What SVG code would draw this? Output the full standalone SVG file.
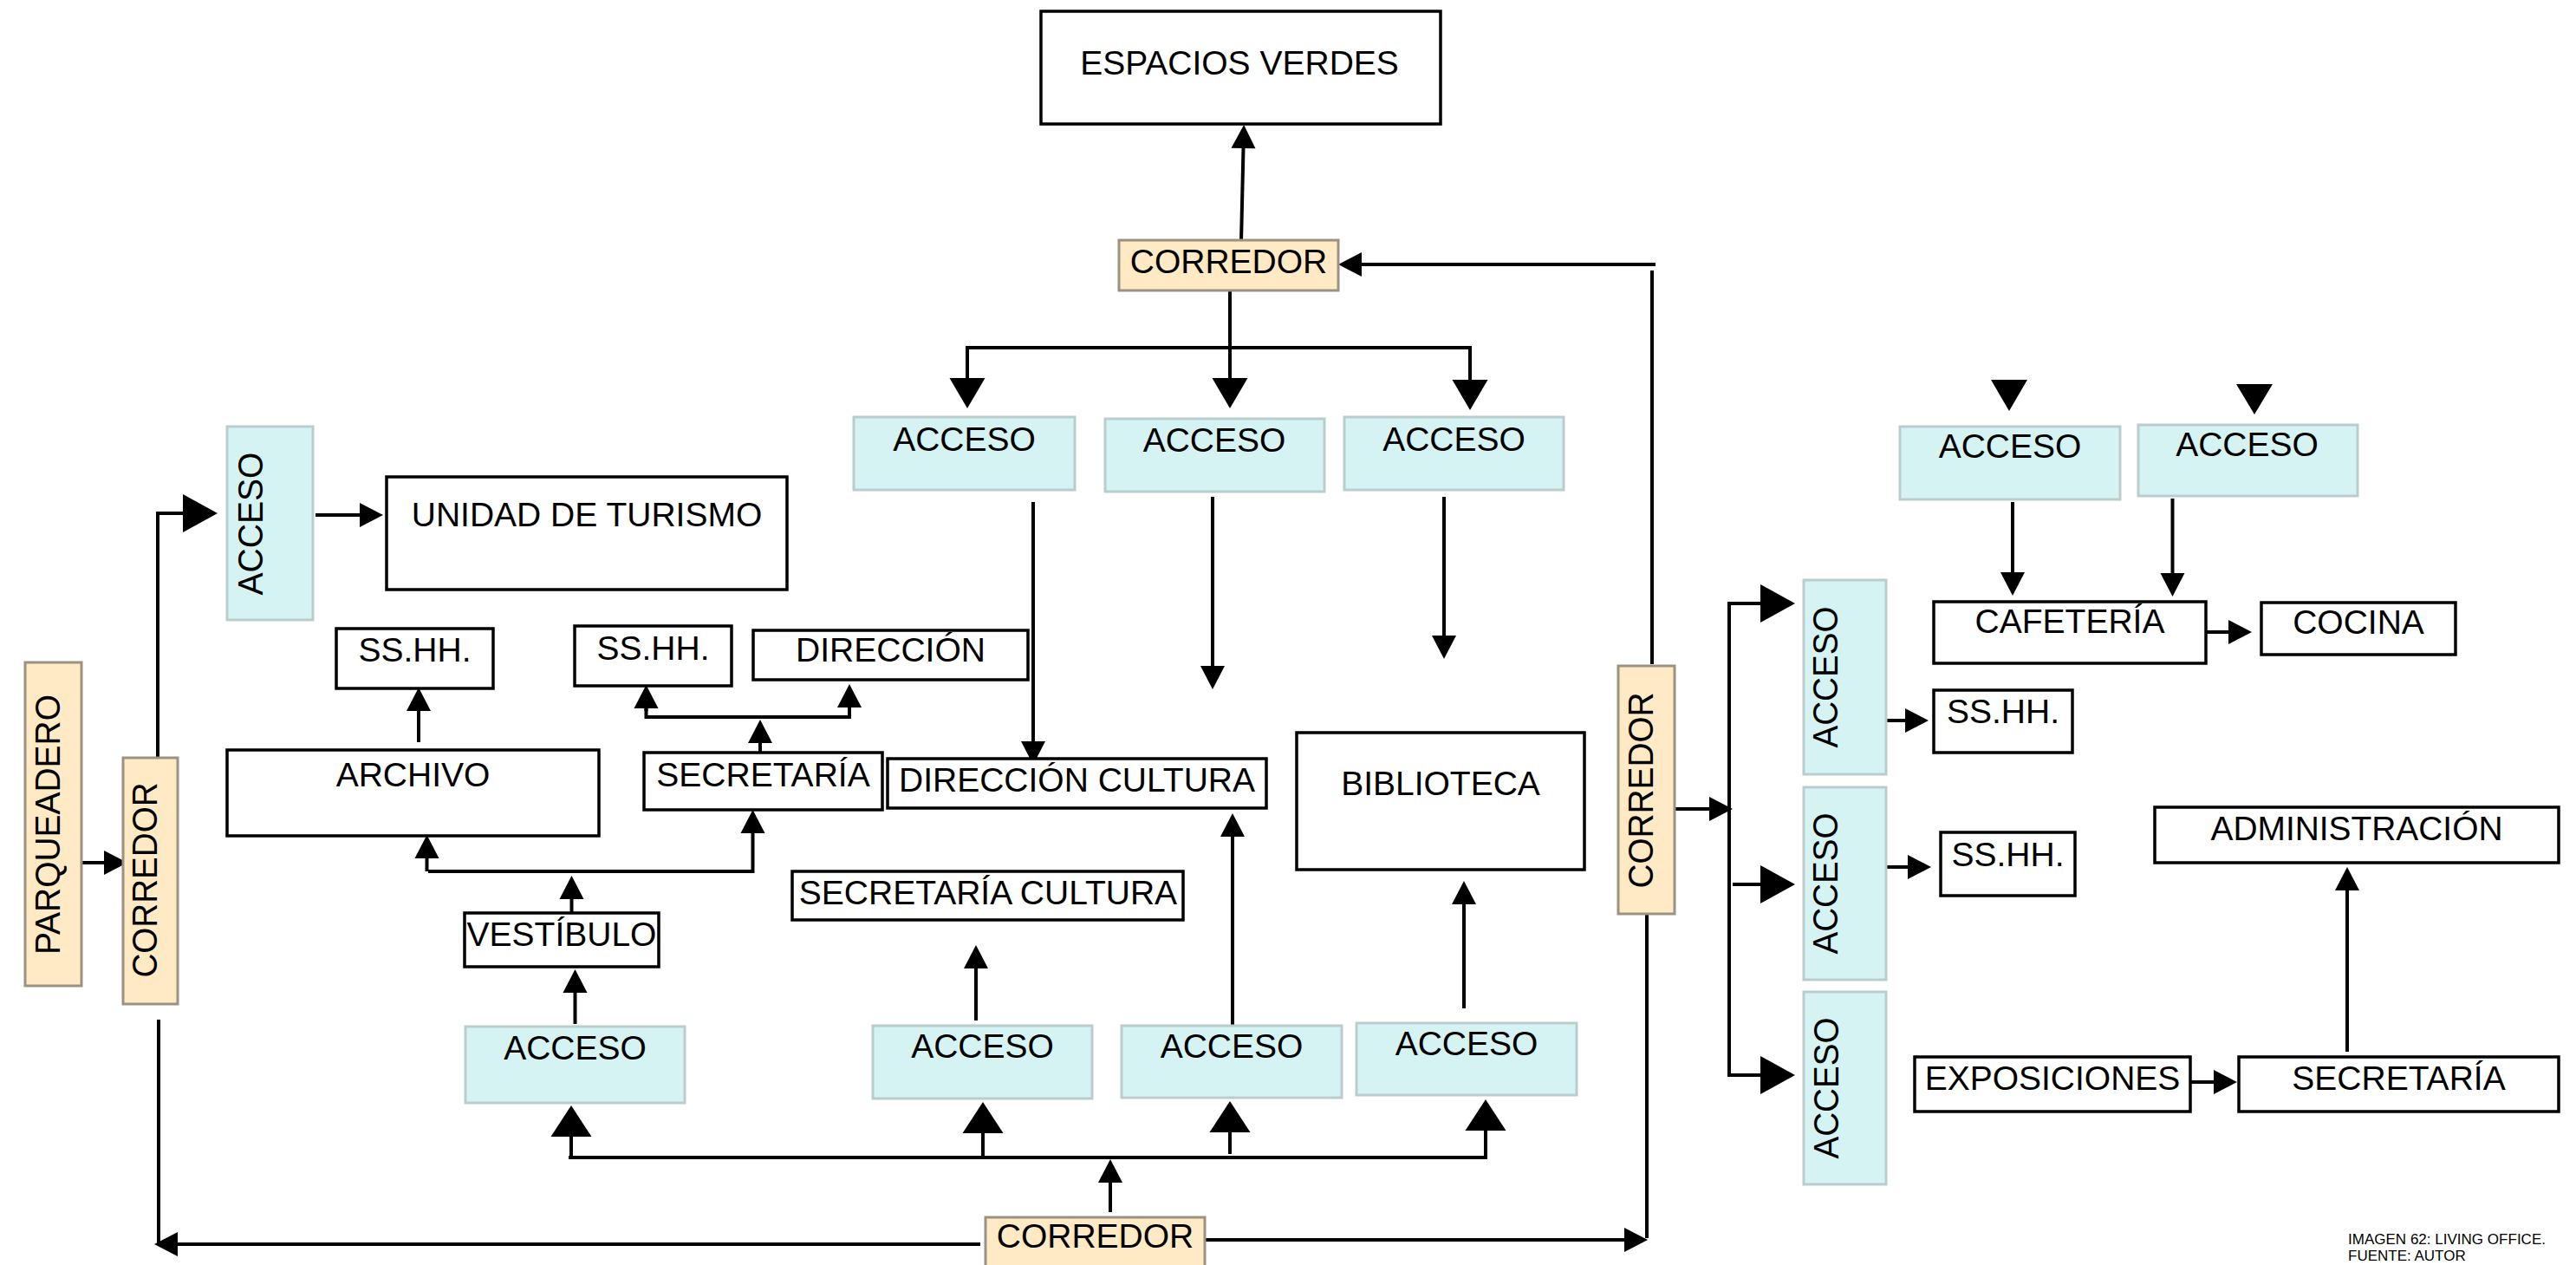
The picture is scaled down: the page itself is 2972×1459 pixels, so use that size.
<svg xmlns="http://www.w3.org/2000/svg" width="2972" height="1459" viewBox="0 0 2972 1459">
<style>
.b{fill:#fff;stroke:#000;stroke-width:3.5}
.acc{fill:#D6F3F3;stroke:#BACDCD;stroke-width:3}
.cor{fill:#FFEAC5;stroke:#9C9282;stroke-width:3}
text{font-family:"Liberation Sans",Arial,sans-serif;font-size:39px;fill:#000;text-anchor:middle}
.v{font-size:41px}
.foot{font-size:17px;text-anchor:start}
#connectors path{fill:none;stroke:#000;stroke-width:4}
#connectors polygon{fill:#000}
</style>
<defs>
<marker id="mS" markerUnits="userSpaceOnUse" markerWidth="28" markerHeight="28" refX="0" refY="14" orient="auto" overflow="visible"><path d="M0,0 L27,14 L0,28 z" fill="#000"/></marker>
<marker id="mM" markerUnits="userSpaceOnUse" markerWidth="36" markerHeight="41" refX="0" refY="20.5" orient="auto" overflow="visible"><path d="M0,0 L35,20.5 L0,41 z" fill="#000"/></marker>
<marker id="mL" markerUnits="userSpaceOnUse" markerWidth="36" markerHeight="47" refX="0" refY="23.5" orient="auto" overflow="visible"><path d="M0,0 L36,23.5 L0,47 z" fill="#000"/></marker>
<marker id="mX" markerUnits="userSpaceOnUse" markerWidth="40" markerHeight="44" refX="0" refY="22" orient="auto" overflow="visible"><path d="M0,0 L40,22 L0,44 z" fill="#000"/></marker>
</defs>
<rect width="2972" height="1459" fill="#fff"/>

<g id="connectors">
<path d="M1432,279 L1434.5,171" marker-end="url(#mS)"/>
<path d="M1910,305 L1571,305" marker-end="url(#mS)"/>
<path d="M1906,312 L1906,766"/>
<path d="M1419,335 L1419,436" marker-end="url(#mM)"/>
<path d="M1114,401 L1698,401"/>
<path d="M1116,401 L1116,436" marker-end="url(#mM)"/>
<path d="M1696,401 L1696,438" marker-end="url(#mM)"/>
<path d="M1192,579 L1192,855" marker-end="url(#mS)"/>
<path d="M1399,573 L1399,768" marker-end="url(#mS)"/>
<path d="M1666,573 L1666,733" marker-end="url(#mS)"/>
<path d="M94,995 L120,995" marker-end="url(#mS)"/>
<path d="M182,873 L182,592 L211,592" marker-end="url(#mX)"/>
<path d="M364,594 L415,594" marker-end="url(#mS)"/>
<path d="M483,856 L483,820" marker-end="url(#mS)"/>
<path d="M492.5,1005 L492.5,990" marker-end="url(#mS)"/>
<path d="M494,1005 L868.5,1005 L868.5,961" marker-end="url(#mS)"/>
<path d="M659.5,1053 L659.5,1037" marker-end="url(#mS)"/>
<path d="M663.5,1181 L663.5,1145" marker-end="url(#mS)"/>
<path d="M877,867 L877,857" marker-end="url(#mS)"/>
<path d="M745.5,817 L745.5,827 L980,827 L980,816" />
<path d="M745.5,820 L745.5,817" marker-end="url(#mS)"/>
<path d="M980,819 L980,816" marker-end="url(#mS)"/>
<path d="M656,1335 L1716,1335"/>
<path d="M659,1335 L659,1311" marker-end="url(#mL)"/>
<path d="M1134,1335 L1134,1307" marker-end="url(#mL)"/>
<path d="M1419,1331 L1419,1306" marker-end="url(#mL)"/>
<path d="M1714,1335 L1714,1304" marker-end="url(#mL)"/>
<path d="M1281,1398 L1281,1364" marker-end="url(#mS)"/>
<path d="M1126,1177 L1126,1117" marker-end="url(#mS)"/>
<path d="M1422,1183 L1422,965" marker-end="url(#mS)"/>
<path d="M1689,1163 L1689,1043" marker-end="url(#mS)"/>
<path d="M183,1176 L183,1435"/>
<path d="M1131,1435 L205,1435" marker-end="url(#mS)"/>
<path d="M1900,1046 L1900,1428"/>
<path d="M1391,1430 L1874,1430" marker-end="url(#mS)"/>
<path d="M1927,933 L1972,933" marker-end="url(#mS)"/>
<path d="M1995,694 L1995,1242"/>
<path d="M1993,696 L2031,696" marker-end="url(#mX)"/>
<path d="M1999,1020 L2031,1020" marker-end="url(#mX)"/>
<path d="M1993,1240 L2031,1240" marker-end="url(#mX)"/>
<path d="M2176,831 L2198,831" marker-end="url(#mS)"/>
<path d="M2176,1000 L2201,1000" marker-end="url(#mS)"/>
<path d="M2322,579 L2322,660" marker-end="url(#mS)"/>
<path d="M2506.5,575 L2506.5,661" marker-end="url(#mS)"/>
<path d="M2545,729 L2571,729" marker-end="url(#mS)"/>
<path d="M2527,1248 L2554,1248" marker-end="url(#mS)"/>
<path d="M2708,1213 L2708,1027" marker-end="url(#mS)"/>
<polygon points="2297,438 2339,438 2318,474"/>
<polygon points="2580,443 2622,443 2601,478"/>
</g>

<g id="espacios-verdes"><rect class="b" x="1201" y="13" width="461" height="130"/><text x="1430" y="86">ESPACIOS VERDES</text></g>
<g id="corredor-top"><rect class="cor" x="1291" y="277" width="253" height="58"/><text x="1417.5" y="315">CORREDOR</text></g>
<g id="acceso-a1"><rect class="acc" x="985" y="481" width="255" height="84"/><text x="1112.5" y="520">ACCESO</text></g>
<g id="acceso-a2"><rect class="acc" x="1275" y="483" width="253" height="84"/><text x="1401" y="521">ACCESO</text></g>
<g id="acceso-a3"><rect class="acc" x="1551" y="481" width="253" height="84"/><text x="1677.5" y="520">ACCESO</text></g>

<g id="parqueadero"><rect class="cor" x="29" y="764" width="65" height="373"/><text class="v" transform="translate(69,951) rotate(-90)" textLength="300" lengthAdjust="spacingAndGlyphs">PARQUEADERO</text></g>
<g id="corredor-left"><rect class="cor" x="142" y="874" width="63" height="284"/><text class="v" transform="translate(181,1015) rotate(-90)" textLength="225" lengthAdjust="spacingAndGlyphs">CORREDOR</text></g>
<g id="acceso-left"><rect class="acc" x="262" y="492" width="99" height="223"/><text class="v" transform="translate(303,604) rotate(-90)" textLength="165" lengthAdjust="spacingAndGlyphs">ACCESO</text></g>
<g id="unidad-turismo"><rect class="b" x="446" y="550" width="462" height="130"/><text x="677" y="607">UNIDAD DE TURISMO</text></g>
<g id="sshh-1"><rect class="b" x="388" y="725" width="181" height="69"/><text x="478.5" y="763">SS.HH.</text></g>
<g id="sshh-2"><rect class="b" x="663" y="722" width="181" height="69"/><text x="753.5" y="761">SS.HH.</text></g>
<g id="direccion"><rect class="b" x="869" y="727" width="317" height="57"/><text x="1027.5" y="763">DIRECCIÓN</text></g>
<g id="archivo"><rect class="b" x="262" y="865" width="429" height="99"/><text x="476.5" y="907">ARCHIVO</text></g>
<g id="secretaria"><rect class="b" x="743" y="868" width="275" height="66"/><text x="880.5" y="906.5">SECRETARÍA</text></g>
<g id="direccion-cultura"><rect class="b" x="1024" y="875" width="437" height="57"/><text x="1242.5" y="913">DIRECCIÓN CULTURA</text></g>
<g id="biblioteca"><rect class="b" x="1496" y="845" width="332" height="158"/><text x="1662" y="916.5">BIBLIOTECA</text></g>
<g id="secretaria-cultura"><rect class="b" x="914" y="1005" width="451" height="56"/><text x="1140" y="1043">SECRETARÍA CULTURA</text></g>
<g id="vestibulo"><rect class="b" x="536" y="1053" width="224" height="62"/><text x="648" y="1091">VESTÍBULO</text></g>
<g id="acceso-b1"><rect class="acc" x="537" y="1184" width="253" height="88"/><text x="663.5" y="1222">ACCESO</text></g>
<g id="acceso-b2"><rect class="acc" x="1007" y="1183" width="253" height="84"/><text x="1133.5" y="1220">ACCESO</text></g>
<g id="acceso-b3"><rect class="acc" x="1294" y="1183" width="254" height="83"/><text x="1421" y="1220">ACCESO</text></g>
<g id="acceso-b4"><rect class="acc" x="1565" y="1180" width="254" height="83"/><text x="1692" y="1217">ACCESO</text></g>
<g id="corredor-bottom"><rect class="cor" x="1137" y="1404" width="253" height="80"/><text x="1263.5" y="1439">CORREDOR</text></g>

<g id="corredor-right"><rect class="cor" x="1867" y="768" width="65" height="286"/><text class="v" transform="translate(1907,911.5) rotate(-90)" textLength="226" lengthAdjust="spacingAndGlyphs">CORREDOR</text></g>
<g id="acceso-r1"><rect class="acc" x="2081" y="669" width="95" height="224"/><text class="v" transform="translate(2120,781) rotate(-90)" textLength="163" lengthAdjust="spacingAndGlyphs">ACCESO</text></g>
<g id="acceso-r2"><rect class="acc" x="2081" y="908" width="95" height="222"/><text class="v" transform="translate(2120,1019) rotate(-90)" textLength="163" lengthAdjust="spacingAndGlyphs">ACCESO</text></g>
<g id="acceso-r3"><rect class="acc" x="2081" y="1144" width="95" height="222"/><text class="v" transform="translate(2121,1255) rotate(-90)" textLength="163" lengthAdjust="spacingAndGlyphs">ACCESO</text></g>
<g id="acceso-c1"><rect class="acc" x="2192" y="492" width="254" height="84"/><text x="2319" y="528">ACCESO</text></g>
<g id="acceso-c2"><rect class="acc" x="2467" y="490" width="253" height="82"/><text x="2592.5" y="526">ACCESO</text></g>
<g id="cafeteria"><rect class="b" x="2231" y="694" width="314" height="71"/><text x="2388" y="730">CAFETERÍA</text></g>
<g id="cocina"><rect class="b" x="2609" y="695" width="224" height="60"/><text x="2721" y="731">COCINA</text></g>
<g id="sshh-r1"><rect class="b" x="2231" y="796" width="160" height="72"/><text x="2311" y="834">SS.HH.</text></g>
<g id="sshh-r2"><rect class="b" x="2239" y="960" width="155" height="73"/><text x="2316.5" y="998.5">SS.HH.</text></g>
<g id="administracion"><rect class="b" x="2486" y="931" width="466" height="64"/><text x="2719" y="969" textLength="337" lengthAdjust="spacingAndGlyphs">ADMINISTRACIÓN</text></g>
<g id="exposiciones"><rect class="b" x="2209" y="1219" width="318" height="63"/><text x="2368" y="1256.5">EXPOSICIONES</text></g>
<g id="secretaria-right"><rect class="b" x="2583" y="1219" width="369" height="63"/><text x="2767.5" y="1256.5">SECRETARÍA</text></g>

<g id="caption">
<text class="foot" x="2709" y="1435" textLength="228" lengthAdjust="spacingAndGlyphs">IMAGEN 62: LIVING OFFICE.</text>
<text class="foot" x="2709" y="1454" font-size="16">FUENTE: AUTOR</text>
</g>
</svg>
